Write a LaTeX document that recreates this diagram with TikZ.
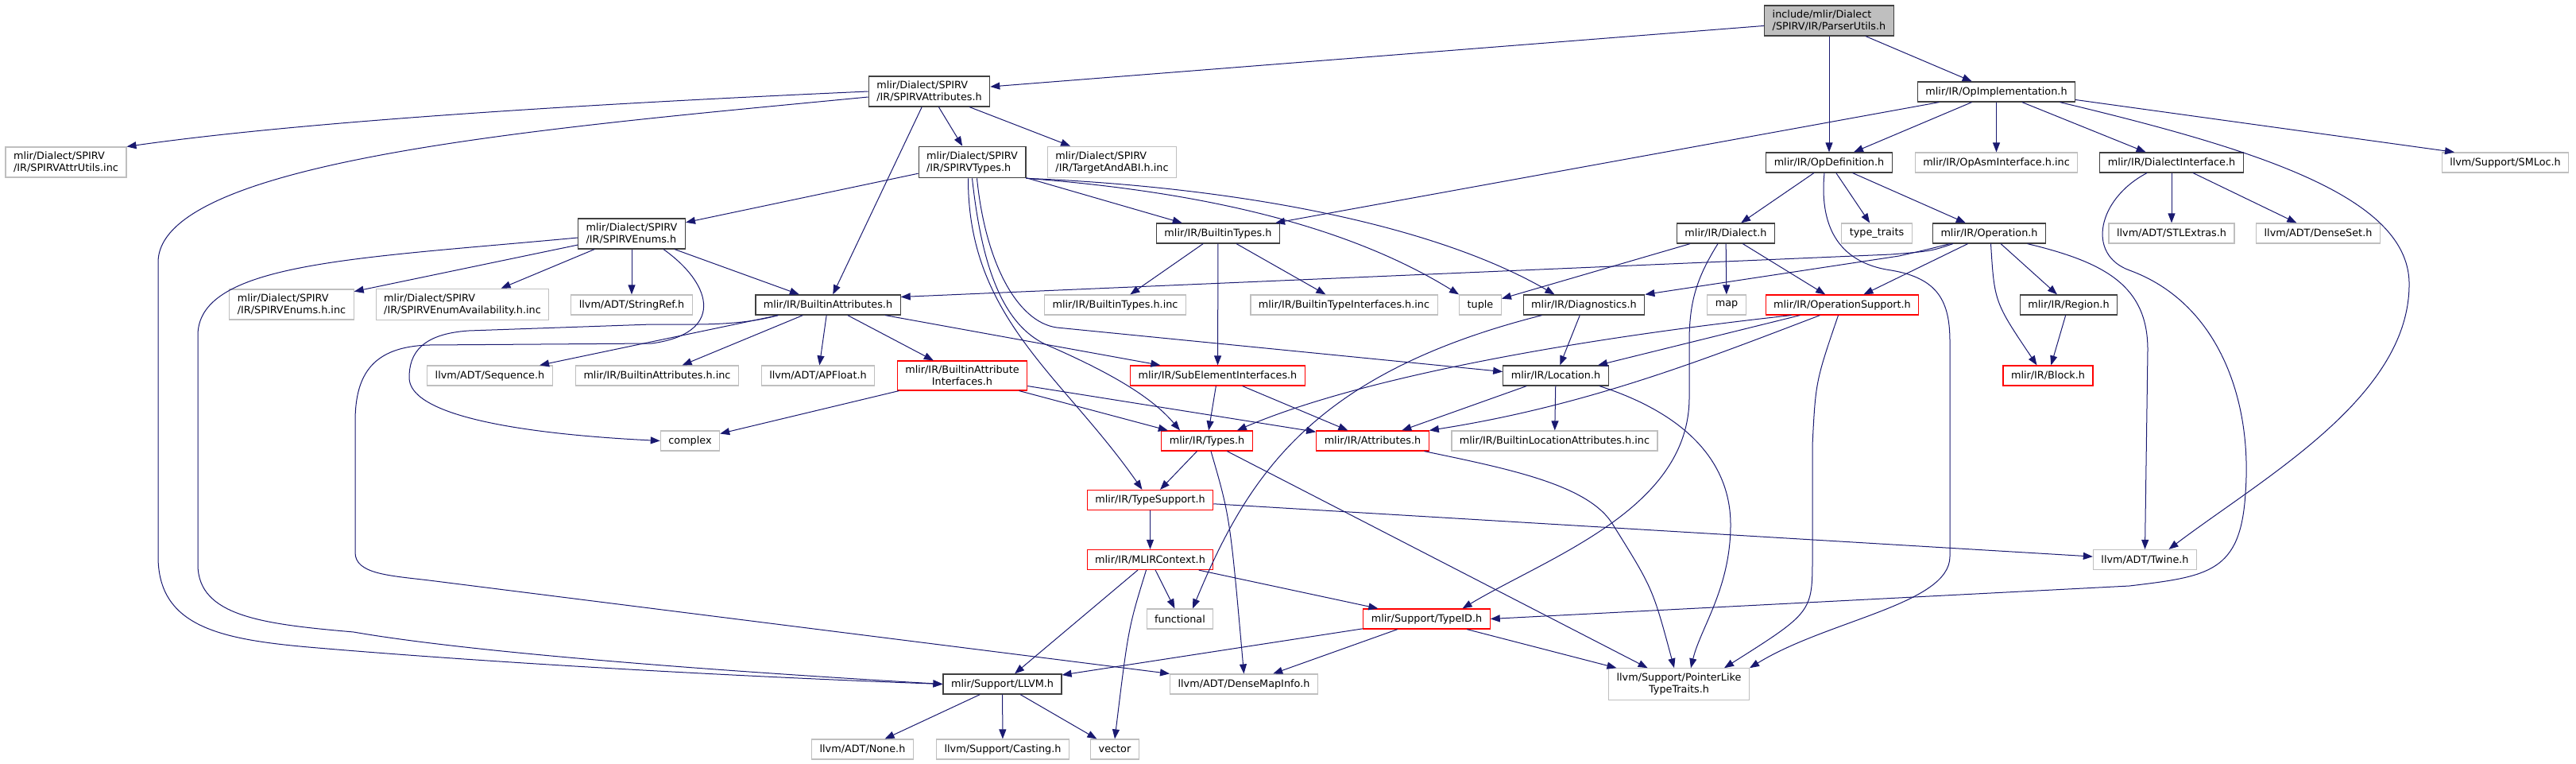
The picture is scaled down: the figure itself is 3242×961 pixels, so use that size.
\documentclass[tikz,border=0pt]{standalone}
\usepackage{fontspec}
\setmainfont{DejaVu Sans}
\usetikzlibrary{arrows.meta}
\definecolor{EdgeBlue}{HTML}{191970}
\definecolor{DocBorder}{HTML}{404040}
\definecolor{ExtBorder}{HTML}{BFBFBF}
\definecolor{TruncRed}{HTML}{FF0000}
\definecolor{RootFill}{HTML}{BFBFBF}

\begin{document}
\begin{tikzpicture}[
    x=1pt,y=-1pt,
    hdr/.style={rectangle,fill=white,line width=1.2pt,inner xsep=10pt,inner ysep=6pt,minimum height=25pt,font=\fontsize{12.8}{15}\selectfont},
    docnode/.style={hdr,draw=DocBorder},
    extnode/.style={hdr,draw=ExtBorder},
    trunode/.style={hdr,draw=TruncRed},
    rootnode/.style={hdr,draw=DocBorder,fill=RootFill},
    dep/.style={draw=EdgeBlue,line width=1pt,-{Triangle[length=12pt,width=9pt]}},
  ]
  \useasboundingbox (0,0) rectangle (3242,961);

  \node[rootnode,align=left] (root) at (2302,26) {include/mlir/Dialect\\/SPIRV/IR/ParserUtils.h};
  \foreach \nm/\px/\py/\lbl in {spvattr/1169.5/115/{mlir/Dialect/SPIRV\\/IR/SPIRVAttributes.h},
      spvtypes/1223.5/204/{mlir/Dialect/SPIRV\\/IR/SPIRVTypes.h},
      spvenums/795/294/{mlir/Dialect/SPIRV\\/IR/SPIRVEnums.h}} {
    \node[docnode,align=left] (\nm) at (\px,\py) {\lbl};
  }
  \foreach \nm/\px/\py/\lbl in {battr/1042/383.5/{mlir/IR/BuiltinAttributes.h},
      builtintypes/1533/293.5/{mlir/IR/BuiltinTypes.h},
      diag/1993.5/383.5/{mlir/IR/Diagnostics.h},
      location/1958/472.5/{mlir/IR/Location.h},
      llvmh/1261.5/860.5/{mlir/Support/LLVM.h},
      opimpl/2512.5/115.5/{mlir/IR/OpImplementation.h},
      opdef/2302/204.5/{mlir/IR/OpDefinition.h},
      dialiface/2733/204.5/{mlir/IR/DialectInterface.h},
      dialect/2172/293.5/{mlir/IR/Dialect.h},
      operation/2503.5/293.5/{mlir/IR/Operation.h},
      region/2603.5/383.5/{mlir/IR/Region.h}} {
    \node[docnode] (\nm) at (\px,\py) {\lbl};
  }
  \foreach \nm/\px/\py/\lbl in {subelem/1532.5/472.5/{mlir/IR/SubElementInterfaces.h},
      types/1519/554.5/{mlir/IR/Types.h},
      attrs/1727.5/554.5/{mlir/IR/Attributes.h},
      typesupport/1447.5/629/{mlir/IR/TypeSupport.h},
      mlirctx/1447.5/704/{mlir/IR/MLIRContext.h},
      typeid/1795.5/778.5/{mlir/Support/TypeID.h},
      opsupport/2318.5/383.5/{mlir/IR/OperationSupport.h},
      block/2577.5/472.5/{mlir/IR/Block.h}} {
    \node[trunode] (\nm) at (\px,\py) {\lbl};
  }
  \node[trunode,align=center] (bai) at (1211,472.5) {mlir/IR/BuiltinAttribute\\Interfaces.h};
  \foreach \nm/\px/\py/\lbl in {attrutils/83/204/{mlir/Dialect/SPIRV\\/IR/SPIRVAttrUtils.inc},
      targetabi/1399.5/204/{mlir/Dialect/SPIRV\\/IR/TargetAndABI.h.inc},
      enumsinc/367/383/{mlir/Dialect/SPIRV\\/IR/SPIRVEnums.h.inc},
      enumavail/582/383/{mlir/Dialect/SPIRV\\/IR/SPIRVEnumAvailability.h.inc}} {
    \node[extnode,align=left] (\nm) at (\px,\py) {\lbl};
  }
  \node[extnode,align=center] (ptrlike) at (2113,860.5) {llvm/Support/PointerLike\\TypeTraits.h};
  \foreach \nm/\px/\py/\lbl in {stringref/795/383.5/{llvm/ADT/StringRef.h},
      btypesinc/1403.5/383.5/{mlir/IR/BuiltinTypes.h.inc},
      btinc/1691.5/383.5/{mlir/IR/BuiltinTypeInterfaces.h.inc},
      tuple/1863/383.5/tuple,
      map/2173/383.5/map,
      sequence/616.5/472.5/{llvm/ADT/Sequence.h},
      battrinc/827/472.5/{mlir/IR/BuiltinAttributes.h.inc},
      apfloat/1029.5/472.5/{llvm/ADT/APFloat.h},
      complex/868.5/554.5/complex,
      blocattr/1956.5/554.5/{mlir/IR/BuiltinLocationAttributes.h.inc},
      twine/2699.5/704/{llvm/ADT/Twine.h},
      functional/1485/778.5/functional,
      densemap/1565.5/860.5/{llvm/ADT/DenseMapInfo.h},
      none/1085.5/942.5/{llvm/ADT/None.h},
      casting/1262/942.5/{llvm/Support/Casting.h},
      vector/1403/942.5/vector,
      opasm/2512.5/204.5/{mlir/IR/OpAsmInterface.h.inc},
      smloc/3153/204.5/{llvm/Support/SMLoc.h},
      typetraits/2362/293.5/{type\_traits},
      stlextras/2733/293.5/{llvm/ADT/STLExtras.h},
      denseset/2917.5/293.5/{llvm/ADT/DenseSet.h}} {
    \node[extnode] (\nm) at (\px,\py) {\lbl};
  }

  \foreach \a/\b in {root/spvattr,root/opdef,root/opimpl,spvattr/spvtypes,spvattr/targetabi,spvattr/battr,
      spvtypes/spvenums,spvtypes/builtintypes,spvenums/enumsinc,spvenums/enumavail,spvenums/stringref,spvenums/battr,
      battr/sequence,battr/battrinc,battr/apfloat,battr/bai,battr/subelem,
      builtintypes/btypesinc,builtintypes/subelem,builtintypes/btinc,
      opimpl/builtintypes,opimpl/opdef,opimpl/opasm,opimpl/dialiface,
      opdef/dialect,opdef/typetraits,opdef/operation,dialect/tuple,dialect/map,dialect/opsupport,
      operation/opsupport,operation/region,dialiface/stlextras,dialiface/denseset,
      diag/location,opsupport/location,location/attrs,location/blocattr,subelem/types,subelem/attrs,
      bai/complex,bai/types,bai/attrs,types/typesupport,types/ptrlike,typesupport/mlirctx,typesupport/twine,
      mlirctx/llvmh,mlirctx/functional,mlirctx/typeid,typeid/llvmh,typeid/densemap,typeid/ptrlike,
      llvmh/none,llvmh/casting,llvmh/vector,region/block} {
    \draw[dep] (\a) -- (\b);
  }

  \draw[dep] (spvattr.west) .. controls (800,128) and (400,150) .. (attrutils.north east);
  \draw[dep] ([yshift=-7pt]spvattr.west) .. controls (700,160) and (199,200) .. (199,330) -- (199,700)
    .. controls (199,790) and (280,805) .. (400,815) .. controls (600,832) and (900,850) .. (llvmh.west);
  \draw[dep] ([yshift=-5pt]spvenums.west) .. controls (450,325) and (252,330) .. (249,420) -- (249,710)
    .. controls (249,775) and (330,785) .. (445,795) .. controls (560,815) and (800,838) .. (llvmh.west);
  \draw[dep] ([xshift=40pt]spvenums.south) .. controls (900,360) and (910,420) .. (820,432) -- (540,434)
    .. controls (470,436) and (447,470) .. (447,530) -- (447,695)
    .. controls (447,722) and (490,724) .. (540,730) -- (densemap.north west);
  \draw[dep] ([xshift=29pt]battr.south west) .. controls (930,410) and (880,408) .. (820,408) -- (590,416)
    .. controls (530,420) and (515,445) .. (515,475) .. controls (515,520) and (640,545) .. (complex.west);
  \draw[dep] (spvtypes.south east) .. controls (1500,240) and (1690,280) .. (tuple.north west);
  \draw[dep] (spvtypes.south east) .. controls (1550,235) and (1800,280) .. ([xshift=-37pt]diag.north);
  \draw[dep] ([xshift=-5pt]spvtypes.south) .. controls (1218,400) and (1337,472) .. ([xshift=-10pt]typesupport.north);
  \draw[dep] (spvtypes.south) .. controls (1235,330) and (1260,410) .. (1320,435)
    .. controls (1400,470) and (1450,500) .. ([xshift=-34pt]types.north);
  \draw[dep] ([xshift=6pt]spvtypes.south) .. controls (1240,330) and (1280,405) .. (1330,412) -- ([yshift=5pt]location.west);
  \draw[dep] ([yshift=-10pt]opimpl.east) -- ([xshift=-64pt]smloc.north);
  \draw[dep] ([xshift=80pt]opimpl.south) .. controls (2850,190) and (3035,250) .. (3032,360)
    .. controls (3030,500) and (2850,600) .. ([xshift=30pt]twine.north);
  \draw[dep] ([xshift=-6pt]opdef.south) .. controls (2290,280) and (2310,330) .. (2380,340)
    .. controls (2440,350) and (2454,380) .. (2454,430) -- (2454,700)
    .. controls (2454,760) and (2300,780) .. (ptrlike.north east);
  \draw[dep] ([xshift=26pt]operation.south west) .. controls (2430,316) .. (2380,320) -- ([yshift=10pt]battr.east);
  \draw[dep] ([xshift=22pt]operation.south west) .. controls (2425,314) .. (2390,322) -- (diag.north east);
  \draw[dep] ([xshift=2pt]operation.south) .. controls (2510,380) .. ([xshift=-14pt]block.north);
  \draw[dep] ([xshift=48pt]operation.south) .. controls (2650,330) and (2703,360) .. (2703,440) -- (twine.north);
  \draw[dep] ([xshift=-31pt]dialiface.south) .. controls (2640,250) and (2625,320) .. (2680,340)
    .. controls (2790,380) and (2835,500) .. (2826,620) .. controls (2820,720) and (2780,725) .. (2680,737) -- (typeid.east);
  \draw[dep] ([xshift=-10pt]dialect.south) .. controls (2135,350) and (2126,380) .. (2126,430) -- (2126,500)
    .. controls (2126,640) and (1950,700) .. ([xshift=45pt]typeid.north);
  \draw[dep] ([xshift=-53pt]diag.south) .. controls (1650,470) and (1570,600) .. ([xshift=16pt]functional.north);
  \draw[dep] ([xshift=-64pt]opsupport.south) .. controls (1950,430) and (1700,480) .. ([xshift=-20pt]types.north east);
  \draw[dep] ([xshift=-28pt]opsupport.south) .. controls (2150,450) and (2000,510) .. (attrs.north east);
  \draw[dep] ([xshift=-5pt]opsupport.south) .. controls (2285,480) .. (2281,560) -- (2281,700)
    .. controls (2281,770) .. ([xshift=57pt]ptrlike.north);
  \draw[dep] ([xshift=55pt]location.south) .. controls (2120,520) and (2178,580) .. (2178,660)
    .. controls (2178,740) and (2140,790) .. ([xshift=15pt]ptrlike.north);
  \draw[dep] ([xshift=65pt]attrs.south) .. controls (1900,590) and (2000,610) .. (2030,660)
    .. controls (2080,740) .. ([xshift=-6pt]ptrlike.north);
  \draw[dep] ([xshift=5pt]types.south) .. controls (1548,650) .. (densemap.north);
  \draw[dep] ([xshift=-5pt]mlirctx.south) .. controls (1420,790) .. (vector.north);
\end{tikzpicture}
\end{document}
